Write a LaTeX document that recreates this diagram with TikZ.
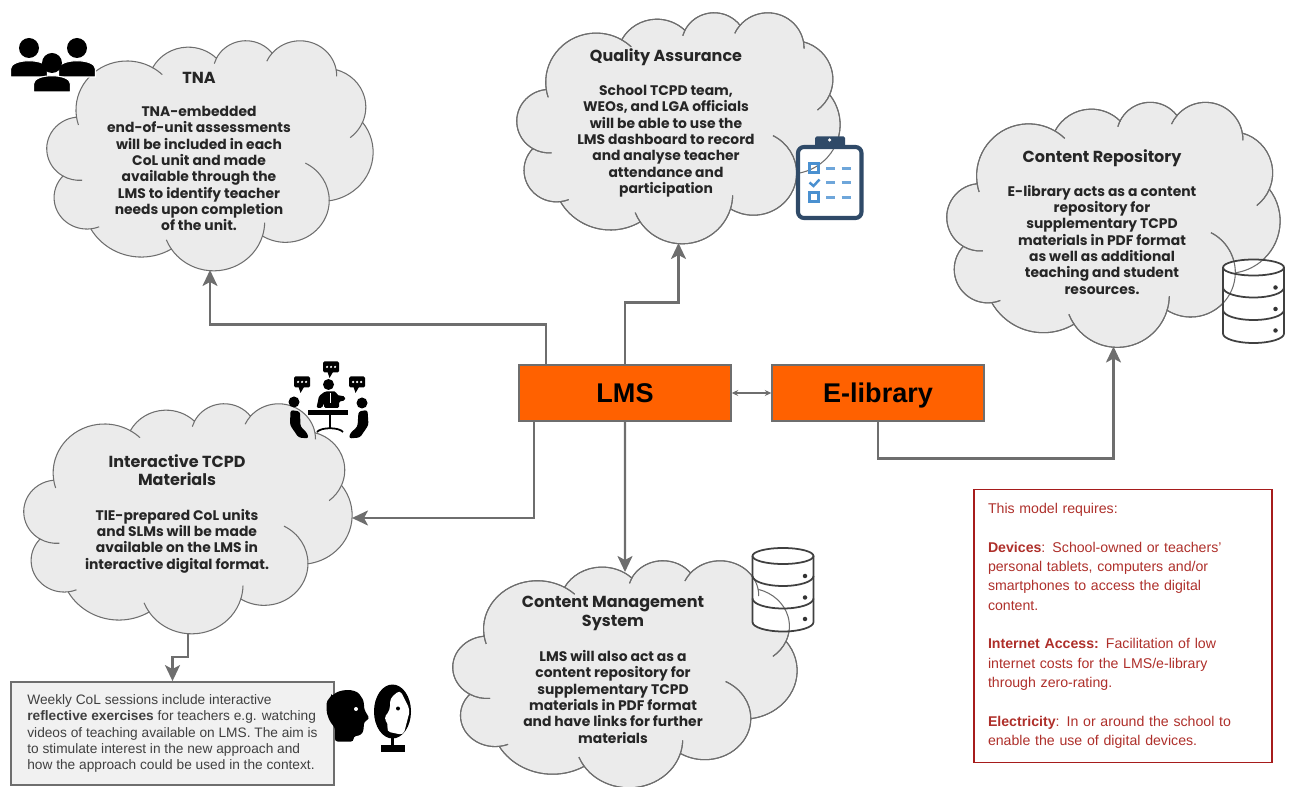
\documentclass[tikz,border=0pt]{standalone}
\usepackage{fontspec}
\setmainfont{Liberation Sans}
\newfontfamily\cloudfont{Poppins}
\usetikzlibrary{arrows.meta}

\definecolor{orangebox}{HTML}{FF6100}
\definecolor{redbox}{HTML}{A61C1C}
\definecolor{redtext}{HTML}{AE2F2A}
\definecolor{cloudgray}{HTML}{EBEBEB}
\definecolor{linegray}{HTML}{6E6E6E}
\definecolor{clipnavy}{HTML}{2F4A68}
\definecolor{clipblue}{HTML}{4A90D0}

\tikzset{
    declare function={bumpt(\a,\w,\h)=atan2(\w*sin(\a),\h*cos(\a))+360*round((\a-atan2(\w*sin(\a),\h*cos(\a)))/360);},
    cloudfill/.style={fill=cloudgray, draw=linegray, line width=0.6pt},
    cloudline/.style={draw=linegray, line width=0.6pt},
    cloudarea/.style={draw=none, inner sep=0pt, outer sep=0pt, anchor=north west},
    cloudtext/.style={align=center, font=\cloudfont\bfseries\fontsize{7.9}{9.3}\selectfont, text=black!85},
    mainbox/.style={draw=linegray, line width=0.8pt, fill=orangebox, minimum width=4.24cm, minimum height=1.12cm, text height=11pt, text depth=0pt, font=\bfseries\fontsize{15.4}{18}\selectfont},
    weeklybox/.style={draw=linegray, line width=1pt, fill=cloudgray!70!white, minimum width=6.46cm, minimum height=2.06cm, align=left, text=black!75, font=\fontsize{7.8}{9.3}\selectfont},
    reqbox/.style={draw=redbox, line width=0.7pt, text width=5.4cm, inner xsep=0.28cm, minimum height=5.46cm, align=left, text=redtext, font=\fontsize{8.05}{11}\selectfont},
    link/.style={draw=linegray, line width=1.4pt, -{Stealth[length=0.32cm, width=0.3cm, inset=0.08cm]}},
    dbline/.style={draw=black!75, line width=1pt},
}

\newcommand{\bumparc}[4]{arc[x radius=#1, y radius=#2, start angle={bumpt(#3,#1,#2)}, end angle={bumpt(#3+#4,#1,#2)}]}
\newcommand{\cloudhead}[1]{{\fontsize{9.1}{9.3}\selectfont #1}}

% outline of a cloud, in a box of 432 x 432
\newcommand{\cloudline}[5][cloudline]{
    \begin{scope}[shift={(#2,#3)}, x=#4cm/432, y=-#5cm/432]
        \path[#1] (39,143.7) coordinate (j0)
            \bumparc{67.53}{91.90}{-190.487}{123.781} coordinate (j1)
            \bumparc{53.33}{72.67}{-144.102}{89.945} coordinate (j2)
            \bumparc{43.65}{59.45}{-145.808}{99.723} coordinate (j3)
            \bumparc{48.57}{65.95}{-130.986}{117.242} coordinate (j4)
            \bumparc{53.33}{72.73}{-78.709}{109.027} coordinate (j5)
            \bumparc{67.75}{92.20}{-46.267}{130.269} coordinate (j6)
            \bumparc{57.85}{78.67}{0.625}{114.033} coordinate (j7)
            \bumparc{67.52}{92.15}{22.452}{115.173} coordinate (j8)
            \bumparc{77.20}{105.43}{66.243}{75.711} coordinate (j9)
            \bumparc{43.60}{59.18}{-274.942}{146.736} coordinate (j10)
            \bumparc{43.45}{59.45}{-246.829}{152.519} -- cycle;
        %inner arcs
        \draw[cloudline] (j0) \bumparc{67.53}{91.90}{-190.487}{-13.3};
        \draw[cloudline] (j1) \bumparc{67.53}{91.90}{-66.706}{12};
        \draw[cloudline] (j2) \bumparc{43.65}{59.45}{-145.808}{-12.7};
        \draw[cloudline] (j3) \bumparc{48.57}{65.95}{-130.986}{-17};
        \draw[cloudline] (j4) \bumparc{48.57}{65.95}{-13.744}{15};
        \draw[cloudline] (j5) \bumparc{53.33}{72.73}{30.318}{30};
        \draw[cloudline] (j6) \bumparc{57.85}{78.67}{0.625}{-70.1};
        \draw[cloudline] (j7) \bumparc{67.52}{92.15}{22.452}{-21};
        \draw[cloudline] (j8) \bumparc{67.52}{92.15}{137.625}{14.08};
        \draw[cloudline] (j9) \bumparc{43.60}{59.18}{85.058}{-11.45};
        \draw[cloudline] (j10) \bumparc{43.45}{59.45}{113.171}{-26.43};
    \end{scope}
}

% a cloud and its named area
\newcommand{\cloudbox}[5]{
    \cloudline[cloudfill]{#2}{#3}{#4}{#5}
    \draw(#2,#3) node (#1) [cloudarea, minimum width=#4cm, minimum height=#5cm] {};
}

\newcommand{\dbback}[2]{
    \fill[white, shift={(#1,#2)}] (-0.61,0) arc[start angle=180, end angle=0, x radius=0.61, y radius=0.16]
        -- (0.61,-1.32) arc[start angle=0, end angle=-180, x radius=0.61, y radius=0.19] -- cycle;
}
\newcommand{\dbicon}[2]{
    \begin{scope}[shift={(#1,#2)}]
        \draw[dbline] (0,0) ellipse (0.61 and 0.16);
        \draw[dbline] (-0.61,0) -- (-0.61,-1.32) arc[start angle=180, end angle=360, x radius=0.61, y radius=0.19] -- (0.61,0);
        \draw[dbline] (-0.61,-0.4) arc[start angle=180, end angle=360, x radius=0.61, y radius=0.2];
        \draw[dbline] (-0.61,-0.85) arc[start angle=180, end angle=360, x radius=0.61, y radius=0.2];
        \fill[black!80] (0.44,-0.4) circle (0.045);
        \fill[black!80] (0.44,-0.83) circle (0.045);
        \fill[black!80] (0.44,-1.26) circle (0.045);
    \end{scope}
}
\newcommand{\personicon}[2]{
    \begin{scope}[shift={(#1,#2)}]
        \fill[black] (0,0) circle (0.2);
        \draw[white, line width=0.6pt, fill=black] (-0.37,-0.58) -- (-0.37,-0.42) .. controls (-0.37,-0.2) and (0.37,-0.2) .. (0.37,-0.42) -- (0.37,-0.58) -- cycle;
    \end{scope}
}
\newcommand{\speechicon}[2]{
    \begin{scope}[shift={(#1,#2)}]
        \fill[black, rounded corners=0.03cm] (-0.16,0.11) rectangle (0.16,-0.11);
        \fill[black] (-0.07,-0.1) -- (-0.03,-0.22) -- (0.04,-0.1) -- cycle;
        \fill[white] (-0.08,0) circle (0.025);
        \fill[white] (0,0) circle (0.025);
        \fill[white] (0.08,0) circle (0.025);
    \end{scope}
}

\begin{document}
\begin{tikzpicture}
        \useasboundingbox (0,0) rectangle (25.94,-15.74);

        %Clouds
        \cloudbox{tna}{0.94}{-0.8}{6.52}{4.6}
        \cloudbox{qa}{10.34}{-0.24}{6.46}{4.62}
        \cloudbox{repo}{18.94}{-2.03}{6.66}{4.9}
        \cloudbox{interact}{0.48}{-8.06}{6.56}{4.6}
        \cloudbox{cms}{9.06}{-11.2}{6.88}{4.54}

        %white backs of the icons, the cloud lines stay on top
        \fill[white, rounded corners=0.12cm] (15.96,-2.94) rectangle (17.23,-4.36);
        \dbback{25.07}{-5.35}
        \dbback{15.66}{-11.12}
        \cloudline{10.34}{-0.24}{6.46}{4.62}
        \cloudline{18.94}{-2.03}{6.66}{4.9}
        \cloudline{9.06}{-11.2}{6.88}{4.54}

        %Cloud labels
        \draw(3.98,-3.03) node (tnatext) [cloudtext] {\cloudhead{TNA}\\[9.6pt]
            TNA-embedded\\ end-of-unit assessments\\ will be included in each\\ CoL unit and made\\ available through the\\ LMS to identify teacher\\ needs upon completion\\ of the unit.};
        \draw(13.32,-2.46) node (qatext) [cloudtext] {\cloudhead{Quality Assurance}\\[10pt]
            School TCPD team,\\ WEOs, and LGA officials\\ will be able to use the\\ LMS dashboard to record\\ and analyse teacher\\ attendance and\\ participation};
        \draw(22.04,-4.44) node (repotext) [cloudtext] {\cloudhead{Content Repository}\\[10pt]
            E-library acts as a content\\ repository for\\ supplementary TCPD\\ materials in PDF format\\ as well as additional\\ teaching and student\\ resources.};
        \draw(3.54,-10.28) node (interacttext) [cloudtext] {\cloudhead{Interactive TCPD}\\[0.6pt] \cloudhead{Materials}\\[10.5pt]
            TIE-prepared CoL units\\ and SLMs will be made\\ available on the LMS in\\ interactive digital format.};
        \draw(12.26,-13.39) node (cmstext) [cloudtext] {\cloudhead{Content Management}\\[1.7pt] \cloudhead{System}\\[10.5pt]
            LMS will also act as a\\ content repository for\\ supplementary TCPD\\ materials in PDF format\\ and have links for further\\ materials};

        %Boxes
        \draw(12.5,-7.86) node (lms) [mainbox] {LMS};
        \draw(17.56,-7.86) node (elibrary) [mainbox] {E-library};
        \draw(3.45,-14.67) node (weekly) [weeklybox] {Weekly CoL sessions include interactive\\
            \textbf{reflective exercises} for teachers e.g. watching\\
            videos of teaching available on LMS. The aim is\\
            to stimulate interest in the new approach and\\
            how the approach could be used in the context.};
        \draw(22.46,-12.52) node (reqs) [reqbox] {This model requires:\\[11pt]
            \textbf{Devices}: School-owned or teachers'\\
            personal tablets, computers and/or\\
            smartphones to access the digital\\
            content.\\[11pt]
            \textbf{Internet Access:} Facilitation of low\\
            internet costs for the LMS/e-library\\
            through zero-rating.\\[11pt]
            \textbf{Electricity}: In or around the school to\\
            enable the use of digital devices.};

        %Edges
        \draw[link] ([xshift=-1.58cm]lms.north) -- ++(0,0.8) -| (tna.south);
        \draw[link] (lms.north) -- ++(0,1.24) -| (qa.south);
        \draw[link] ([xshift=-1.82cm]lms.south) |- (interact.east);
        \draw[link] (lms.south) -- ([yshift=-0.24cm]cms.north);
        \draw[link] (elibrary.south) -- ++(0,-0.74) -| (repo.south);
        \draw[draw=linegray, line width=0.6pt, {Stealth[length=0.13cm, width=0.12cm]}-{Stealth[length=0.13cm, width=0.12cm]}] (lms.east) -- (elibrary.west);
        \draw[link] (interact.south) -- ++(0,-0.48) -| (weekly.north);

        %people
        \personicon{0.58}{-0.96}
        \personicon{1.54}{-0.96}
        \personicon{1.04}{-1.26}

        %meeting
        \speechicon{6.62}{-7.34}
        \speechicon{6.04}{-7.64}
        \speechicon{7.14}{-7.64}
        \fill[black] (6.57,-7.69) circle (0.11);
        \fill[black] (5.88,-8.04) circle (0.11);
        \fill[black] (7.24,-8.06) circle (0.11);
        \fill[black, rounded corners=0.03cm] (6.33,-8.16) -- (6.38,-7.92) -- (6.5,-7.83) -- (6.72,-7.83) -- (6.74,-7.9) -- (6.9,-7.93) -- (6.9,-8.01) -- (6.78,-8.03) -- (6.78,-8.16) -- (6.48,-8.16) -- (6.48,-8.06) -- (6.44,-8.16) -- cycle;
        \draw[white, line width=0.5pt] (6.6,-7.86) -- (6.6,-8.06);
        \fill[black] (6.16,-8.2) rectangle (6.96,-8.3);
        \draw[black, line width=1pt] (6.6,-8.3) -- (6.6,-8.56);
        \draw[black, line width=1pt] (6.34,-8.64) .. controls (6.42,-8.54) and (6.78,-8.54) .. (6.86,-8.64);
        \fill[black, rounded corners=0.05cm] (5.81,-8.2) -- (5.8,-8.5) -- (5.97,-8.75) -- (6.17,-8.77) -- (6.15,-8.67) -- (6.01,-8.53) -- (6,-8.23) -- cycle;
        \fill[black, rounded corners=0.05cm] (7.17,-8.23) -- (7.35,-8.2) -- (7.37,-8.5) -- (7.2,-8.75) -- (6.98,-8.77) -- (7,-8.67) -- (7.15,-8.53) -- cycle;

        %clipboard
        \draw[clipnavy, line width=2.3pt, rounded corners=0.12cm] (15.96,-2.94) rectangle (17.23,-4.36);
        \fill[clipnavy, rounded corners=0.03cm] (16.3,-2.73) rectangle (16.9,-2.94);
        \fill[white] (16.59,-2.8) circle (0.035);
        \draw[clipblue, line width=1.2pt] (16.19,-3.27) rectangle (16.37,-3.45);
        \draw[clipblue, line width=1.2pt] (16.19,-3.85) rectangle (16.37,-4.03);
        \draw[clipblue, line width=1.4pt] (16.19,-3.65) -- (16.27,-3.72) -- (16.39,-3.59);
        \foreach \rowy in {-3.37,-3.65,-3.95}{
            \draw[clipblue!80, line width=1.4pt] (16.52,\rowy) -- (16.7,\rowy);
            \draw[clipblue!80, line width=1.4pt] (16.83,\rowy) -- (17.01,\rowy);
        }

        %databases
        \dbicon{25.07}{-5.35}
        \dbicon{15.66}{-11.12}

        %head and mirror
        \fill[black, rounded corners=0.05cm] (6.63,-13.93) .. controls (6.78,-13.78) and (7.1,-13.76) .. (7.22,-13.93) .. controls (7.28,-14.02) and (7.28,-14.12) .. (7.29,-14.2) -- (7.39,-14.37) -- (7.28,-14.44) -- (7.27,-14.62) -- (7.22,-14.7) -- (7.07,-14.73) -- (7.07,-14.83) -- (6.7,-14.83) -- (6.7,-14.55) .. controls (6.6,-14.45) and (6.53,-14.3) .. (6.53,-14.13) .. controls (6.53,-14.05) and (6.56,-13.98) .. (6.63,-13.93) -- cycle;
        \fill[white] (7.12,-14.18) circle (0.04);
        \fill[black] (7.85,-14.23) ellipse (0.37 and 0.54);
        \fill[white, rounded corners=0.08cm] (8,-13.8) -- (8.2,-14.2) -- (8.07,-14.7) -- (7.73,-14.63) -- (7.77,-14.47) -- (7.67,-14.37) -- (7.8,-14.2) -- (7.8,-13.97) -- cycle;
        \fill[black] (7.96,-14.17) circle (0.04);
        \draw[black, line width=1.2pt] (7.85,-14.75) -- (7.85,-14.95);
        \fill[black] (7.62,-14.9) rectangle (8.1,-15.03);
\end{tikzpicture}
\end{document}
